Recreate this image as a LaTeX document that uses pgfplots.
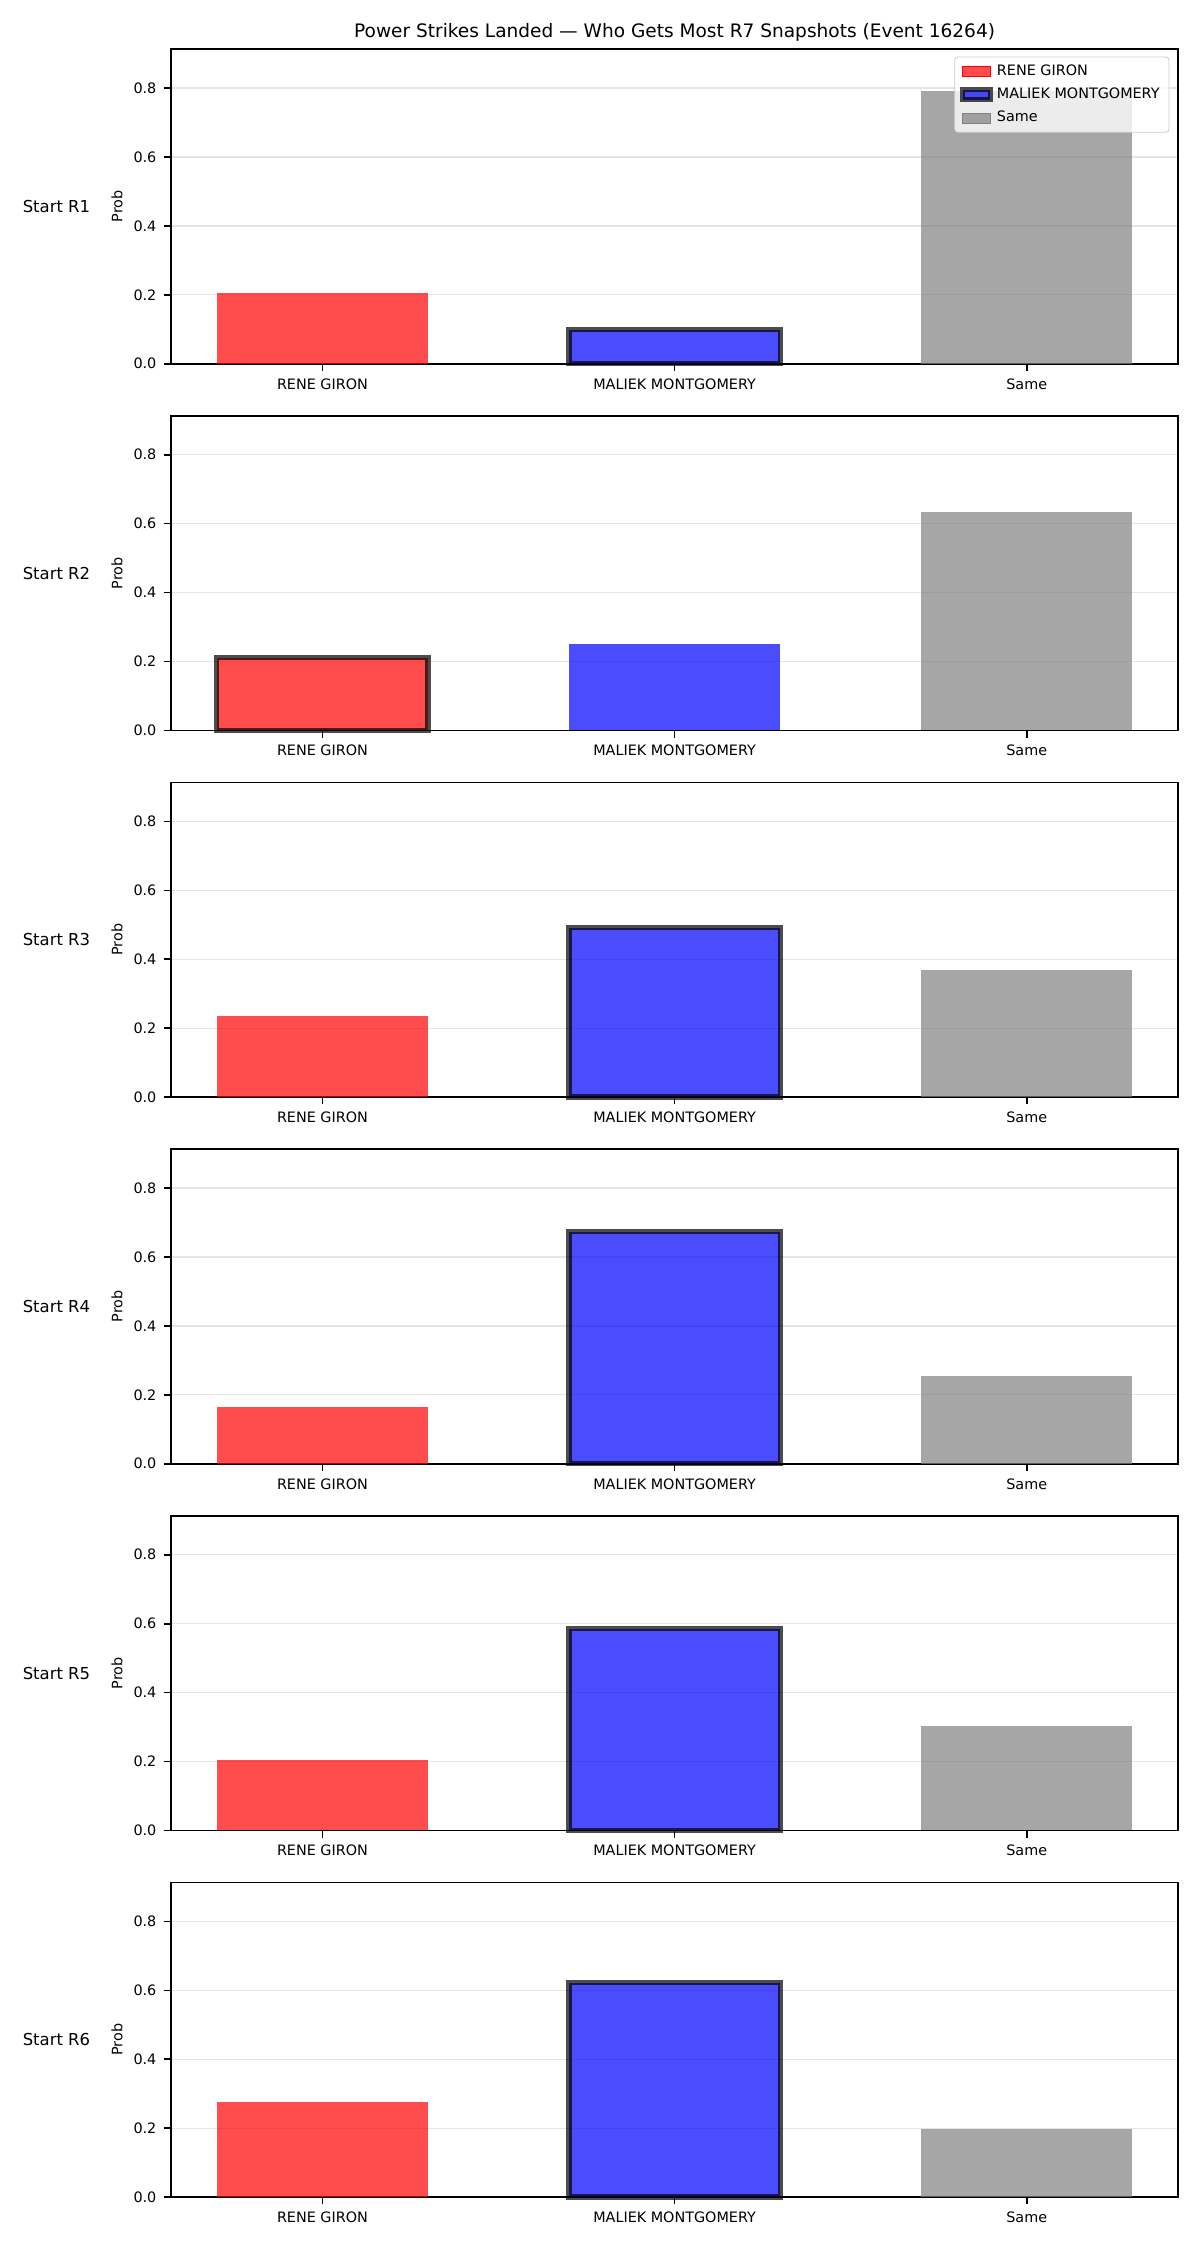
\documentclass[border=0pt]{standalone}
\usepackage{fontspec}
\setmainfont{DejaVu Sans}
\usepackage{pgfplots}
\pgfplotsset{compat=1.18}

\newcommand{\tickfont}{\fontsize{6.9}{8.3}\selectfont}
\newcommand{\rowfont}{\fontsize{7.9}{9.5}\selectfont}
\newcommand{\titlefont}{\fontsize{8.9}{10.7}\selectfont}

% side labels of one panel: the starting round and the y label
\newcommand{\sidelabels}[1]{%
  \node[font=\rowfont, anchor=center] at ([xshift=-55pt]rel axis cs:0,0.5) {#1};
  \node[font=\tickfont, rotate=90, anchor=center] at ([xshift=-25.9pt]rel axis cs:0,0.5) {Prob};
}

\pgfplotsset{
  panel/.style={
    scale only axis, width=483.4pt, height=151pt,
    anchor=south west,
    xmin=-0.43, xmax=2.43, ymin=0, ymax=0.913,
    xtick={0,1,2}, xticklabels={RENE GIRON, MALIEK MONTGOMERY, Same},
    ytick={0,0.2,0.4,0.6,0.8},
    yticklabel style={/pgf/number format/.cd, fixed, fixed zerofill, precision=1},
    /pgf/number format/assume math mode=true,
    tick label style={font=\tickfont},
    tick align=outside, major tick length=3.5pt,
    tick style={black, line width=0.8pt},
    xtick pos=bottom, ytick pos=left,
    axis line style={line width=0.8pt},
    ymajorgrids, grid style={black!10, line width=0.6pt},
    clip=false,
  },
  bar/.style={ybar, bar width=0.6, bar shift=0pt, draw=none, fill opacity=0.7, forget plot},
  hl/.style={draw=black, draw opacity=0.7, line width=2.5pt},
}

\begin{document}
\begin{tikzpicture}
\useasboundingbox (0,0) rectangle (576pt,1080pt);

\node[font=\titlefont] at (323.8pt,1064.6pt) {Power Strikes Landed — Who Gets Most R7 Snapshots (Event 16264)};

% Start R1
\begin{axis}[panel, at={(82.1pt,905.4pt)},
  legend cell align=left,
  legend style={at={(1,1)}, anchor=north east, xshift=-4.2pt, yshift=-3.6pt,
    draw=black!20, rounded corners=1.5pt, fill=white, fill opacity=0.8,
    draw opacity=1, text opacity=1, font=\tickfont, row sep=0.6pt,
    inner xsep=2.5pt, inner ysep=1.5pt}]
  \addplot[bar, fill=red] coordinates {(0,0.205)};
  \addplot[bar, fill=blue, hl] coordinates {(1,0.099)};
  \addplot[bar, fill=gray] coordinates {(2,0.792)};
  \addlegendimage{legend image code/.code={\fill[red, fill opacity=0.7, sharp corners] (0pt,-2.4pt) rectangle (13.3pt,2.4pt);}}
  \addlegendentry{RENE GIRON}
  \addlegendimage{legend image code/.code={\filldraw[fill=blue, fill opacity=0.7, draw=black, draw opacity=0.7, line width=2.5pt, sharp corners] (0pt,-2.4pt) rectangle (13.3pt,2.4pt);}}
  \addlegendentry{MALIEK MONTGOMERY}
  \addlegendimage{legend image code/.code={\fill[gray, fill opacity=0.7, sharp corners] (0pt,-2.4pt) rectangle (13.3pt,2.4pt);}}
  \addlegendentry{Same}
  \sidelabels{Start R1}
\end{axis}

% Start R2
\begin{axis}[panel, at={(82.1pt,729.4pt)}]
  \addplot[bar, fill=red, hl] coordinates {(0,0.211)};
  \addplot[bar, fill=blue] coordinates {(1,0.250)};
  \addplot[bar, fill=gray] coordinates {(2,0.634)};
  \sidelabels{Start R2}
\end{axis}

% Start R3
\begin{axis}[panel, at={(82.1pt,553.4pt)}]
  \addplot[bar, fill=red] coordinates {(0,0.236)};
  \addplot[bar, fill=blue, hl] coordinates {(1,0.492)};
  \addplot[bar, fill=gray] coordinates {(2,0.370)};
  \sidelabels{Start R3}
\end{axis}

% Start R4
\begin{axis}[panel, at={(82.1pt,377.4pt)}]
  \addplot[bar, fill=red] coordinates {(0,0.165)};
  \addplot[bar, fill=blue, hl] coordinates {(1,0.673)};
  \addplot[bar, fill=gray] coordinates {(2,0.255)};
  \sidelabels{Start R4}
\end{axis}

% Start R5
\begin{axis}[panel, at={(82.1pt,201.4pt)}]
  \addplot[bar, fill=red] coordinates {(0,0.204)};
  \addplot[bar, fill=blue, hl] coordinates {(1,0.586)};
  \addplot[bar, fill=gray] coordinates {(2,0.303)};
  \sidelabels{Start R5}
\end{axis}

% Start R6
\begin{axis}[panel, at={(82.1pt,25.4pt)}]
  \addplot[bar, fill=red] coordinates {(0,0.277)};
  \addplot[bar, fill=blue, hl] coordinates {(1,0.622)};
  \addplot[bar, fill=gray] coordinates {(2,0.198)};
  \sidelabels{Start R6}
\end{axis}
\end{tikzpicture}
\end{document}
